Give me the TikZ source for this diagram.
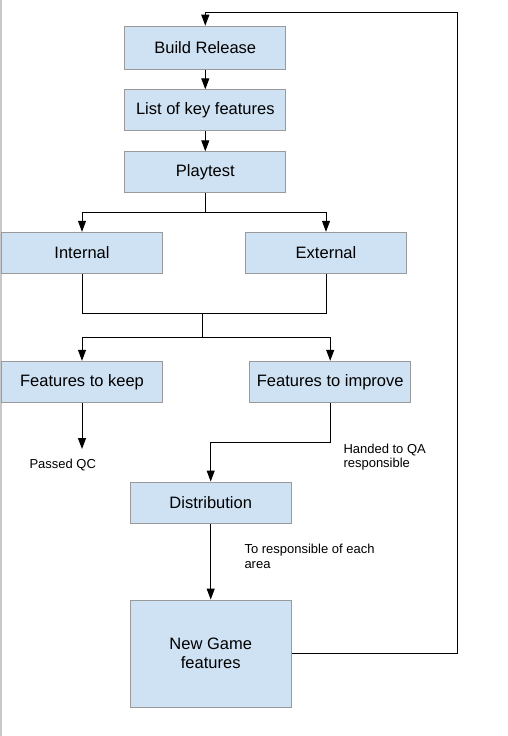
\documentclass[tikz,border=0pt]{standalone}
\usepackage{fontspec}
\setmainfont{Liberation Sans}
\usetikzlibrary{arrows.meta}
\definecolor{boxfill}{HTML}{CFE2F3}
\definecolor{boxline}{HTML}{9A9A9A}
\definecolor{edgegray}{HTML}{C8C8C8}
\begin{document}
\begin{tikzpicture}[x=1pt,y=-1pt,
  box/.style={draw=boxline, fill=boxfill, line width=1pt, minimum width=161pt,
    minimum height=41pt, inner sep=0pt, align=center,
    font=\fontsize{16.5}{19}\selectfont},
  conn/.style={line width=1pt, draw=black},
  arr/.style={conn, -{Triangle[length=11pt,width=8pt]}},
  lbl/.style={font=\fontsize{13}{14.5}\selectfont, align=left, anchor=west, inner sep=0pt}]
\useasboundingbox (0,0) rectangle (508,736);
\fill[white] (0,0) rectangle (508,736);
\draw[edgegray, line width=1.5pt] (1,0) -- (1,736);

\node[box, minimum height=43pt] (build) at (205.3,47.7) {Build Release};
\node[box] (list) at (205.3,110.3) {List of key features};
\node[box] (playtest) at (205.3,172.3) {Playtest};
\node[box] (internal) at (82,252.8) {Internal};
\node[box] (external) at (326,252.8) {External};
\node[box] (keep) at (82,381.8) {Features to keep};
\node[box] (improve) at (330.2,381.8) {Features to improve};
\node[box] (distribution) at (210.7,502.5) {Distribution};
\node[box, minimum height=107.5pt] (newgame) at (210.7,653.8) {New Game\\features};

\node[lbl] (passed) at (29.3,465.3) {Passed QC};
\node[lbl] (handed) at (343.3,457.3) {Handed to QA\\responsible};
\node[lbl] (toresp) at (244.3,556.3) {To responsible of each\\area};

\draw[arr] (build) -- (list);
\draw[arr] (list) -- (playtest);

\coordinate (split1) at (205.3,212.7);
\draw[conn] (playtest.south) -- (split1);
\draw[arr] (split1) -| (internal.north);
\draw[arr] (split1) -| (external.north);

\coordinate (join) at (202.3,313.3);
\draw[conn] (internal.south) |- (join) -| (external.south);
\coordinate (split2) at (202.3,337);
\draw[conn] (join) -- (split2);
\draw[arr] (split2) -| (keep.north);
\draw[arr] (split2) -| (improve.north);

\coordinate (qc) at (82,449);
\draw[arr] (keep.south) -- (qc);

\coordinate (bend) at (330.2,442);
\draw[arr] (improve.south) -- (bend) -| (distribution.north);

\draw[arr] (distribution.south) -- (newgame.north);

\coordinate (loopR) at (457.5,12.7);
\draw[arr] (newgame.east) -| (loopR) -| (build.north);
\end{tikzpicture}
\end{document}
